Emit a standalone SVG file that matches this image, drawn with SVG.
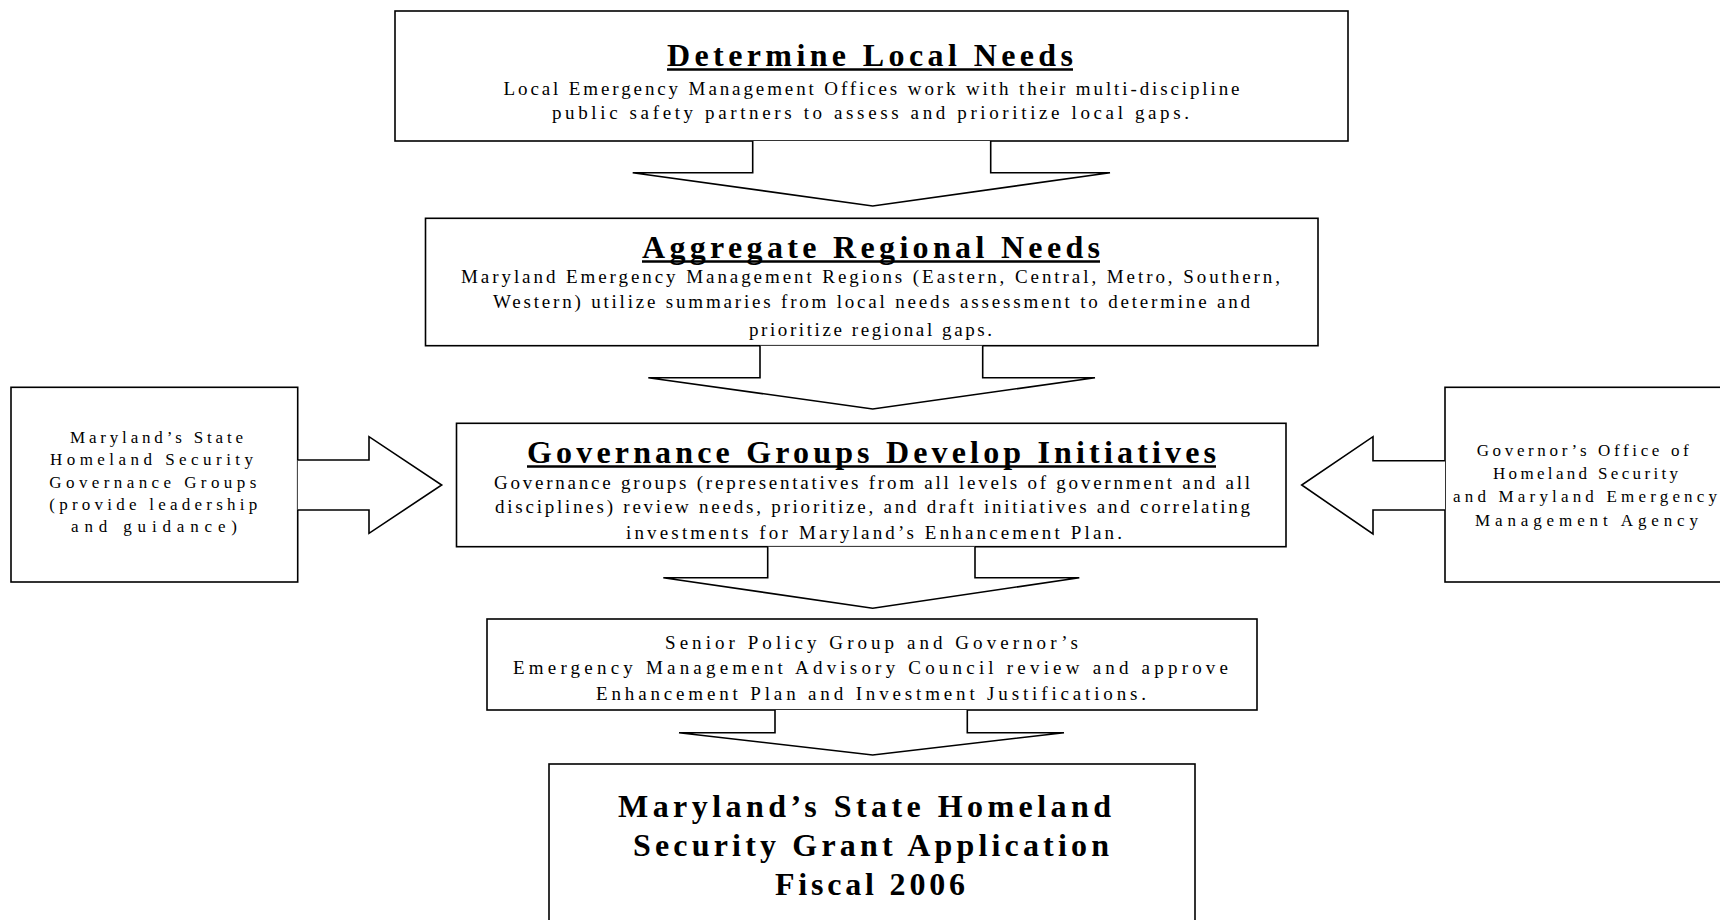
<svg xmlns="http://www.w3.org/2000/svg" width="1720" height="920" viewBox="0 0 1720 920">
<style>
.box{fill:#fff;stroke:#000;stroke-width:1.6}
.arr{fill:#fff;stroke:#000;stroke-width:1.6;stroke-linejoin:miter}
.ul{stroke:#000;stroke-width:2.6}
text{font-family:"Liberation Serif","Times New Roman",serif;fill:#000}
.title{font-size:32px;font-weight:bold}
.body{font-size:19px}
.side{font-size:17px}
.big{font-size:32px;font-weight:bold}
</style>
<rect width="1720" height="920" fill="#fff"/>
<g id="local-needs">
<rect class="box" x="395" y="11" width="953" height="130"/>
<text class="title" x="667" y="66" textLength="406" lengthAdjust="spacing">Determine Local Needs</text>
<line class="ul" x1="667" y1="69.5" x2="1073" y2="69.5"/>
<text class="body" x="503.5" y="95" textLength="736" lengthAdjust="spacing">Local Emergency Management Offices work with their multi-discipline</text>
<text class="body" x="552" y="119" textLength="637" lengthAdjust="spacing">public safety partners to assess and prioritize local gaps.</text>
</g>
<g id="regional-needs">
<rect class="box" x="425.5" y="218.3" width="892.5" height="127.4"/>
<text class="title" x="642" y="258" textLength="458" lengthAdjust="spacing">Aggregate Regional Needs</text>
<line class="ul" x1="642" y1="261.5" x2="1100" y2="261.5"/>
<text class="body" x="461" y="283" textLength="819" lengthAdjust="spacing">Maryland Emergency Management Regions (Eastern, Central, Metro, Southern,</text>
<text class="body" x="493" y="308" textLength="757" lengthAdjust="spacing">Western) utilize summaries from local needs assessment to determine and</text>
<text class="body" x="749" y="336" textLength="243" lengthAdjust="spacing">prioritize regional gaps.</text>
</g>
<g id="governance-groups">
<rect class="box" x="11" y="387.3" width="286.7" height="194.7"/>
<text class="side" x="70" y="443" textLength="173" lengthAdjust="spacing">Maryland’s State</text>
<text class="side" x="50" y="465" textLength="203" lengthAdjust="spacing">Homeland Security</text>
<text class="side" x="49.3" y="488" textLength="207" lengthAdjust="spacing">Governance Groups</text>
<text class="side" x="49.3" y="510" textLength="208" lengthAdjust="spacing">(provide leadership</text>
<text class="side" x="71" y="532" textLength="166" lengthAdjust="spacing">and guidance)</text>
</g>
<g id="develop-initiatives">
<rect class="box" x="456.5" y="423.3" width="829.5" height="123.4"/>
<text class="title" x="527" y="463" textLength="689" lengthAdjust="spacing">Governance Groups Develop Initiatives</text>
<line class="ul" x1="527" y1="466.5" x2="1216" y2="466.5"/>
<text class="body" x="494" y="489" textLength="756" lengthAdjust="spacing">Governance groups (representatives from all levels of government and all</text>
<text class="body" x="495" y="513" textLength="755" lengthAdjust="spacing">disciplines) review needs, prioritize, and draft initiatives and correlating</text>
<text class="body" x="626" y="539" textLength="496" lengthAdjust="spacing">investments for Maryland’s Enhancement Plan.</text>
</g>
<g id="governors-office">
<rect class="box" x="1445" y="387.3" width="290" height="194.7"/>
<text class="side" x="1476.7" y="456" textLength="212" lengthAdjust="spacing">Governor’s Office of</text>
<text class="side" x="1493" y="479" textLength="185" lengthAdjust="spacing">Homeland Security</text>
<text class="side" x="1453" y="502" textLength="264" lengthAdjust="spacing">and Maryland Emergency</text>
<text class="side" x="1475" y="526" textLength="223" lengthAdjust="spacing">Management Agency</text>
</g>
<g id="senior-policy">
<rect class="box" x="487" y="619" width="770" height="91"/>
<text class="body" x="665" y="649" textLength="413" lengthAdjust="spacing">Senior Policy Group and Governor’s</text>
<text class="body" x="513" y="674" textLength="715" lengthAdjust="spacing">Emergency Management Advisory Council review and approve</text>
<text class="body" x="596" y="700" textLength="550" lengthAdjust="spacing">Enhancement Plan and Investment Justifications.</text>
</g>
<g id="grant-application">
<rect class="box" x="549" y="764" width="646" height="170"/>
<text class="big" x="618" y="817" textLength="493" lengthAdjust="spacing">Maryland’s State Homeland</text>
<text class="big" x="633" y="856" textLength="476" lengthAdjust="spacing">Security Grant Application</text>
<text class="big" x="775" y="895" textLength="190" lengthAdjust="spacing">Fiscal 2006</text>
</g>
<g id="connectors">
<path class="arr" d="M752.7,141 V172.7 H632.7 L872.7,206 L1110,172.7 H990.7 V141"/>
<path class="arr" d="M760,345.7 V377.7 H648.3 L872.7,409 L1095,377.7 H982.7 V345.7"/>
<path class="arr" d="M767.7,546.7 V577.7 H663.3 L872.7,608.3 L1079.3,577.7 H975 V546.7"/>
<path class="arr" d="M775,710 V732.7 H679 L872.7,755 L1064,732.7 H967.3 V710"/>
<path class="arr" d="M297.7,460 H369 V436.7 L441.7,485 L369,533.3 V510 H297.7"/>
<path class="arr" d="M1445,460.7 H1373 V436.7 L1301.7,485 L1373,534 V510 H1445"/>
</g>
</svg>
